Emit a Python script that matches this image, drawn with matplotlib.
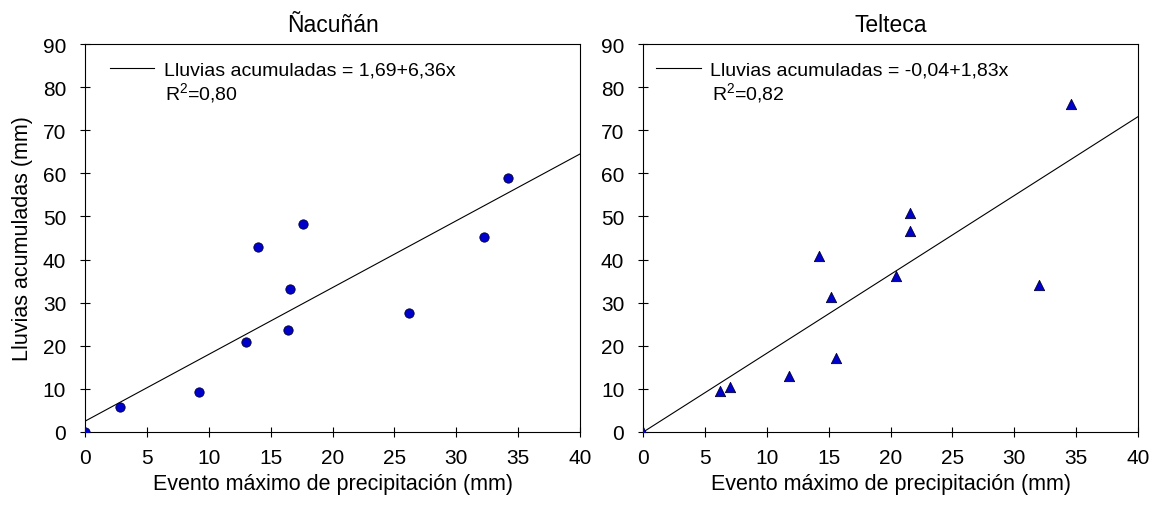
import matplotlib
matplotlib.use("Agg")
import matplotlib.pyplot as plt
import numpy as np

plt.rcParams['font.family'] = ['Liberation Sans', 'DejaVu Sans']
plt.rcParams['mathtext.fontset'] = 'custom'
plt.rcParams['mathtext.rm'] = 'Liberation Sans'
plt.rcParams['mathtext.it'] = 'Liberation Sans'

titles = ["Ñacuñán", "Telteca"]
x_label = "Evento máximo de precipitación (mm)"
y_label = "Lluvias acumuladas (mm)"

nac_x = [0, 2.8, 9.2, 13.0, 14.0, 16.4, 16.6, 17.6, 26.2, 32.2, 34.2]
nac_y = [0, 5.9, 9.2, 20.8, 42.9, 23.7, 33.2, 48.3, 27.6, 45.2, 58.9]
tel_x = [0, 6.2, 7.0, 11.8, 14.2, 15.2, 15.6, 20.4, 21.6, 21.6, 32.0, 34.6]
tel_y = [0, 9.5, 10.5, 13.0, 40.9, 31.4, 17.2, 36.1, 46.6, 50.9, 34.2, 76.2]

# fitted lines as drawn (intercept, slope)
nac_fit = (2.5, 1.55)
tel_fit = (-0.04, 1.83)

eq_labels = ["Lluvias acumuladas = 1,69+6,36x", "Lluvias acumuladas = -0,04+1,83x"]
r2_labels = ["R$^2$=0,80", "R$^2$=0,82"]

x_ticks = [0, 5, 10, 15, 20, 25, 30, 35, 40]
y_ticks = [0, 10, 20, 30, 40, 50, 60, 70, 80, 90]

fig = plt.figure(figsize=(11.58, 5.06), dpi=100)
ax1 = fig.add_axes([0.0734, 0.1443, 0.4275, 0.7667])
ax2 = fig.add_axes([0.5553, 0.1443, 0.4275, 0.7667])

leg_x = [0.05, 0.026]
r2_x = [0.162, 0.139]

datasets = [(ax1, nac_x, nac_y, nac_fit, 'o'), (ax2, tel_x, tel_y, tel_fit, '^')]
for i, (ax, xs, ys, fit, mk) in enumerate(datasets):
    xl = np.array([0, 40])
    ax.plot(xl, fit[0] + fit[1] * xl, color='black', lw=0.8, label=eq_labels[i])
    ax.scatter(xs, ys, marker=mk, s=45 if mk == 'o' else 55, color='#0000CC',
               edgecolors='#000033', linewidths=0.6, zorder=3)
    ax.set_xlim(0, 40)
    ax.set_ylim(0, 90)
    ax.set_xticks(x_ticks)
    ax.set_yticks(y_ticks)
    ax.tick_params(direction='inout', length=7, width=0.8, labelsize=15)
    ax.tick_params(axis='x', pad=8)
    ax.tick_params(axis='y', pad=10)
    ax.set_title(titles[i], fontsize=16.5, pad=9.5)
    ax.set_xlabel(x_label, fontsize=15.5, labelpad=4)
    for s in ax.spines.values():
        s.set_linewidth(0.8)
    ax.legend(loc='center left', frameon=False, fontsize=14,
              handlelength=2.3, handletextpad=0.5, borderpad=0, borderaxespad=0,
              bbox_to_anchor=(leg_x[i], 0.933))
    ax.text(r2_x[i], 0.876, r2_labels[i], transform=ax.transAxes,
            fontsize=14, va='center', ha='left')

ax1.set_ylabel(y_label, fontsize=15.5, labelpad=7)

fig.savefig("out.png", dpi=100)
